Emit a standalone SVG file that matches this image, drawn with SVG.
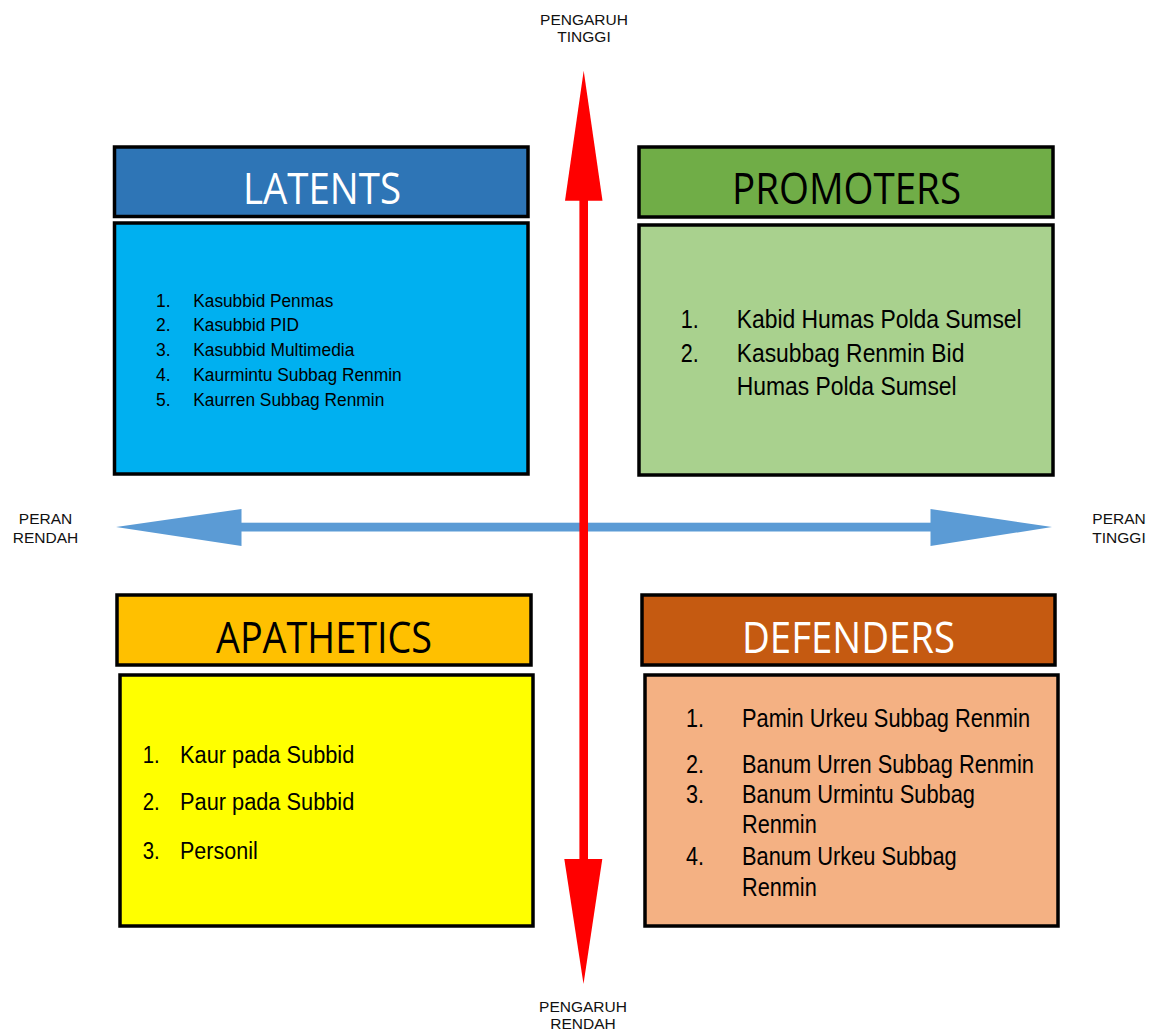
<svg xmlns="http://www.w3.org/2000/svg" width="1160" height="1032" viewBox="0 0 1160 1032">
  <style>
    .box { stroke: #000; stroke-width: 3.5; }
    .head { font-family: "Open Sans", "Noto Sans", "Liberation Sans", sans-serif; font-weight: 400; font-size: 43px; text-anchor: middle; }
    .item { font-family: "Liberation Sans", Arial, sans-serif; fill: #000; }
    .axis { font-family: "Liberation Sans", Arial, sans-serif; font-size: 15.5px; fill: #111; text-anchor: middle; }
    .red { fill: #FF0000; }
    .blue { fill: #5B9BD5; }
  </style>
  <rect width="1160" height="1032" fill="#fff"/>

  <!-- quadrant: latents -->
  <g id="latents">
    <rect class="box" x="114.5" y="147" width="413.5" height="69.5" fill="#2E75B6"/>
    <text class="head" x="322" y="204" fill="#fff" textLength="158" lengthAdjust="spacingAndGlyphs">LATENTS</text>
    <rect class="box" x="114.5" y="223" width="413.5" height="251" fill="#00B0F0"/>
    <g class="item" font-size="17.5px">
      <text x="156" y="306.5">1.</text><text x="193.3" y="306.5" textLength="140" lengthAdjust="spacingAndGlyphs">Kasubbid Penmas</text>
      <text x="156" y="331.3">2.</text><text x="193.3" y="331.3" textLength="105.7" lengthAdjust="spacingAndGlyphs">Kasubbid PID</text>
      <text x="156" y="356">3.</text><text x="193.3" y="356" textLength="161" lengthAdjust="spacingAndGlyphs">Kasubbid Multimedia</text>
      <text x="156" y="380.7">4.</text><text x="193.3" y="380.7" textLength="208.4" lengthAdjust="spacingAndGlyphs">Kaurmintu Subbag Renmin</text>
      <text x="156" y="405.5">5.</text><text x="193.3" y="405.5" textLength="191" lengthAdjust="spacingAndGlyphs">Kaurren Subbag Renmin</text>
    </g>
  </g>

  <!-- quadrant: promoters -->
  <g id="promoters">
    <rect class="box" x="639" y="147" width="414" height="70" fill="#70AD47"/>
    <text class="head" x="846.5" y="204" fill="#000" textLength="229" lengthAdjust="spacingAndGlyphs">PROMOTERS</text>
    <rect class="box" x="639" y="225" width="414" height="250" fill="#A9D18E"/>
    <g class="item" font-size="25px">
      <text x="680.7" y="328.3" textLength="18" lengthAdjust="spacingAndGlyphs">1.</text><text x="736.7" y="328.3" textLength="285" lengthAdjust="spacingAndGlyphs">Kabid Humas Polda Sumsel</text>
      <text x="680.7" y="361.7" textLength="18" lengthAdjust="spacingAndGlyphs">2.</text><text x="736.7" y="361.7" textLength="227.7" lengthAdjust="spacingAndGlyphs">Kasubbag Renmin Bid</text>
      <text x="736.7" y="395" textLength="220" lengthAdjust="spacingAndGlyphs">Humas Polda Sumsel</text>
    </g>
  </g>

  <!-- quadrant: apathetics -->
  <g id="apathetics">
    <rect class="box" x="117" y="595" width="414" height="70" fill="#FFC000"/>
    <text class="head" x="324" y="653" fill="#000" textLength="216" lengthAdjust="spacingAndGlyphs">APATHETICS</text>
    <rect class="box" x="120" y="675" width="413" height="251" fill="#FFFF00"/>
    <g class="item" font-size="23px">
      <text x="142.7" y="763.3" textLength="17" lengthAdjust="spacingAndGlyphs">1.</text><text x="180" y="763.3" textLength="174.3" lengthAdjust="spacingAndGlyphs">Kaur pada Subbid</text>
      <text x="142.7" y="810" textLength="17" lengthAdjust="spacingAndGlyphs">2.</text><text x="180" y="810" textLength="174.3" lengthAdjust="spacingAndGlyphs">Paur pada Subbid</text>
      <text x="142.7" y="859.3" textLength="17" lengthAdjust="spacingAndGlyphs">3.</text><text x="180" y="859.3" textLength="77.7" lengthAdjust="spacingAndGlyphs">Personil</text>
    </g>
  </g>

  <!-- quadrant: defenders -->
  <g id="defenders">
    <rect class="box" x="642" y="595" width="413" height="70" fill="#C55A11"/>
    <text class="head" x="848.5" y="653" fill="#fff" textLength="213" lengthAdjust="spacingAndGlyphs">DEFENDERS</text>
    <rect class="box" x="645" y="675" width="413" height="251" fill="#F4B183"/>
    <g class="item" font-size="25px">
      <text x="686" y="726.7" textLength="18" lengthAdjust="spacingAndGlyphs">1.</text><text x="742" y="726.7" textLength="288" lengthAdjust="spacingAndGlyphs">Pamin Urkeu Subbag Renmin</text>
      <text x="686" y="772.7" textLength="18" lengthAdjust="spacingAndGlyphs">2.</text><text x="742" y="772.7" textLength="292" lengthAdjust="spacingAndGlyphs">Banum Urren Subbag Renmin</text>
      <text x="686" y="802.7" textLength="18" lengthAdjust="spacingAndGlyphs">3.</text><text x="742" y="802.7" textLength="233" lengthAdjust="spacingAndGlyphs">Banum Urmintu Subbag</text>
      <text x="742" y="833.3" textLength="74.7" lengthAdjust="spacingAndGlyphs">Renmin</text>
      <text x="686" y="865" textLength="18" lengthAdjust="spacingAndGlyphs">4.</text><text x="742" y="865" textLength="214.7" lengthAdjust="spacingAndGlyphs">Banum Urkeu Subbag</text>
      <text x="742" y="896" textLength="74.7" lengthAdjust="spacingAndGlyphs">Renmin</text>
    </g>
  </g>

  <!-- axes: role (horizontal) under influence (vertical) -->
  <g id="connectors">
    <g id="axis-peran">
      <rect class="blue" x="240" y="522.7" width="692" height="8.8"/>
      <polygon class="blue" points="116,527 241.5,509 241.5,546"/>
      <polygon class="blue" points="930.5,509 1052,527 930.5,546"/>
    </g>
    <g id="axis-pengaruh">
      <rect class="red" x="579.4" y="199" width="8.6" height="662"/>
      <polygon class="red" points="583.7,70.7 602.5,200.7 565,200.7"/>
      <polygon class="red" points="564.3,859 602.3,859 583.5,984"/>
    </g>
  </g>

  <!-- axis labels -->
  <g id="labels">
    <text class="axis" x="584" y="25">PENGARUH</text>
    <text class="axis" x="584" y="42.3">TINGGI</text>
    <text class="axis" x="583" y="1011.7">PENGARUH</text>
    <text class="axis" x="583" y="1028.7">RENDAH</text>
    <text class="axis" x="45.5" y="524.3">PERAN</text>
    <text class="axis" x="45.5" y="543.3">RENDAH</text>
    <text class="axis" x="1119" y="524.3">PERAN</text>
    <text class="axis" x="1119" y="543.3">TINGGI</text>
  </g>
</svg>
